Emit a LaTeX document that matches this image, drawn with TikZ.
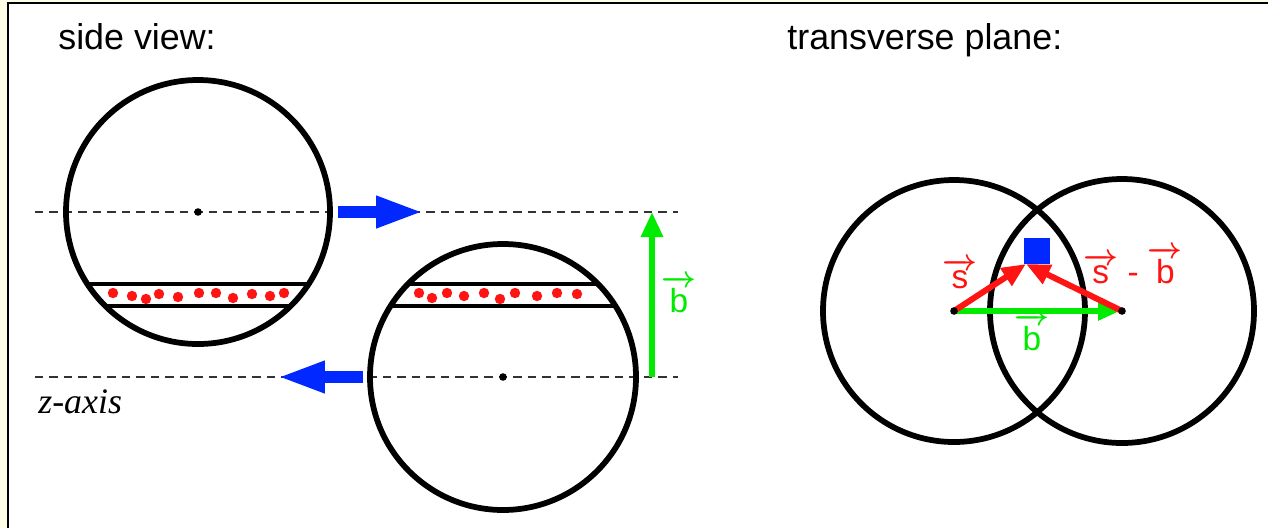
\documentclass[tikz,border=0pt]{standalone}
\usepackage{amsmath}
\usepackage{fontspec}
\setmainfont{Liberation Sans}
\newfontfamily\axisfont{Liberation Serif}
\usetikzlibrary{arrows.meta}
\definecolor{beamblue}{RGB}{0,40,255}
\definecolor{impgreen}{RGB}{0,235,0}
\definecolor{partred}{RGB}{255,20,20}
\definecolor{cream}{RGB}{255,255,232}
\newcommand{\vecsf}[1]{{\boldmath$\overrightarrow{\text{#1}}$}}

\begin{document}
\begin{tikzpicture}[x=0.02cm, y=-0.02cm,
    nucleus/.style={line width=0.115cm},
    slab/.style={line width=0.075cm},
    zline/.style={line width=0.045cm, black!80, dash pattern=on 0.17cm off 0.12cm},
    beam/.style={beamblue, line width=0.24cm, -{Triangle[length=0.96cm, width=0.58cm]}},
    impact/.style={impgreen, line width=0.12cm, -{Triangle[length=0.5cm, width=0.42cm]}},
    svec/.style={partred, line width=0.12cm, -{Triangle[length=0.48cm, width=0.4cm]}},
    title/.style={font=\fontsize{20.4}{24}\selectfont, inner sep=0pt, anchor=base west},
    vlabel/.style={font=\fontsize{19}{22}\selectfont, inner sep=0pt, anchor=base}]
    \useasboundingbox (0,0) rectangle (1268,528);

    % Frame
    \fill[cream] (0,0) rectangle (1268,528);
    \fill[white] (8,3) rectangle (1268,528);
    \draw[line width=0.05cm] (8,528) -- (8,3) -- (1268,3);

    % Titles
    \node[title] (side) at (58,49) {side view:};
    \node[title] (trans) at (787,49) {transverse plane:};
    \node[title, font=\axisfont\itshape\fontsize{20.4}{24}\selectfont] (zax) at (38,413) {z-axis};

    % Side view: beam lines
    \coordinate (topC) at (198,212);
    \coordinate (botC) at (503,377);
    \draw[zline] (35,212) -- (678,212);
    \draw[zline] (35,377) -- (678,377);

    % Overlap slabs
    \begin{scope}
        \clip (topC) circle (132);
        \draw[slab] (0,284) -- (400,284);
        \draw[slab] (0,306) -- (400,306);
    \end{scope}
    \begin{scope}
        \clip (botC) circle (133);
        \draw[slab] (300,284) -- (700,284);
        \draw[slab] (300,306) -- (700,306);
    \end{scope}
    \foreach \x/\y in {113/293, 132/296, 146/299, 159/294, 178/297, 199/293,
                       216/293, 233/298, 252/294, 270/296, 284/293,
                       419/293, 432/298, 447/293, 464/296, 484/293, 500/299,
                       515/293, 537/296, 557/293, 577/294}
        \fill[partred] (\x,\y) circle (5.2);

    % Nuclei
    \draw[nucleus] (topC) circle (132);
    \draw[nucleus] (botC) circle (133);
    \fill (topC) circle (3.8);
    \fill (botC) circle (3.8);

    % Beam directions
    \coordinate (rA) at (338,212);
    \coordinate (rB) at (424,212);
    \coordinate (lA) at (363,377);
    \coordinate (lB) at (277,377);
    \draw[beam] (rA) -- (rB);
    \draw[beam] (lA) -- (lB);

    % Impact parameter
    \coordinate (bA) at (652,377);
    \coordinate (bB) at (652,212);
    \draw[impact] (bA) -- (bB);
    \node[vlabel, impgreen] (bLab) at (679,312) {\vecsf{b}};

    % Transverse plane
    \coordinate (cL) at (954,311);
    \coordinate (cR) at (1122,311);
    \draw[nucleus] (cL) circle (131);
    \draw[nucleus] (cR) circle (132);
    \node[fill=beamblue, inner sep=0pt, minimum size=0.52cm] (coll) at (1037,251) {};
    \coordinate (hit) at (1026,264);
    \draw[impact, -{Triangle[length=0.44cm, width=0.36cm]}] (cL) -- ([xshift=-0.04cm]cR);
    \draw[svec] (cL) -- (hit);
    \draw[svec] (cR) -- (hit);
    \fill (cL) circle (3.8);
    \fill (cR) circle (3.8);
    \node[vlabel, impgreen] (bLab2) at (1032,350) {\vecsf{b}};
    \node[vlabel, partred] (sLab) at (960,288) {\vecsf{s}};
    \node[vlabel, partred, anchor=base west] (sbLab) at (1083,283) {\vecsf{s} - \vecsf{b}};
\end{tikzpicture}
\end{document}
